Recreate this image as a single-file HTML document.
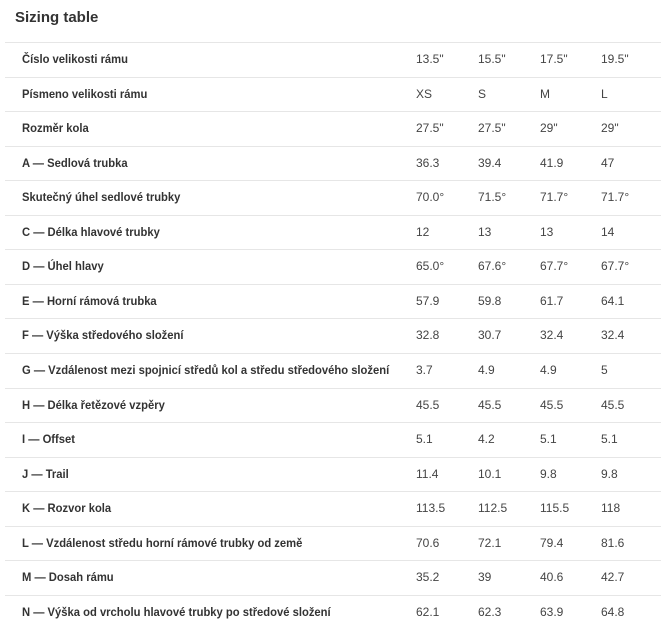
<!DOCTYPE html>
<html><head><meta charset="utf-8"><style>
body{margin:0;width:661px;height:627px;background:#fff;font-family:"Liberation Sans",sans-serif;color:#333;position:relative;overflow:hidden}
.t{position:absolute;left:15px;top:9px;font-size:15px;font-weight:bold;color:#333}
.l{position:absolute;left:5px;right:0;height:1px;background:#e6e6e6}
.r{position:absolute;left:0;width:661px;height:18px;font-size:12px;line-height:18px}
.r span{position:absolute;top:0;white-space:nowrap}
.r .a{left:22px;font-weight:bold;color:#333;transform:scaleX(0.935);transform-origin:0 0}
.r .v{color:#444}
</style></head><body>
<div class="t">Sizing table</div>
<div id="c"></div>
<script>
var rows=[["Číslo velikosti rámu","13.5\"","15.5\"","17.5\"","19.5\""],
["Písmeno velikosti rámu","XS","S","M","L"],
["Rozměr kola","27.5\"","27.5\"","29\"","29\""],
["A — Sedlová trubka","36.3","39.4","41.9","47"],
["Skutečný úhel sedlové trubky","70.0°","71.5°","71.7°","71.7°"],
["C — Délka hlavové trubky","12","13","13","14"],
["D — Úhel hlavy","65.0°","67.6°","67.7°","67.7°"],
["E — Horní rámová trubka","57.9","59.8","61.7","64.1"],
["F — Výška středového složení","32.8","30.7","32.4","32.4"],
["G — Vzdálenost mezi spojnicí středů kol a středu středového složení","3.7","4.9","4.9","5"],
["H — Délka řetězové vzpěry","45.5","45.5","45.5","45.5"],
["I — Offset","5.1","4.2","5.1","5.1"],
["J — Trail","11.4","10.1","9.8","9.8"],
["K — Rozvor kola","113.5","112.5","115.5","118"],
["L — Vzdálenost středu horní rámové trubky od země","70.6","72.1","79.4","81.6"],
["M — Dosah rámu","35.2","39","40.6","42.7"],
["N — Výška od vrcholu hlavové trubky po středové složení","62.1","62.3","63.9","64.8"]];
var xs=[416,478,540,601],h="";
for(var i=0;i<rows.length;i++){
var ly=42+34.56*i;
h+='<div class="l" style="top:'+Math.round(ly)+'px"></div>';
var ty=Math.round(59+34.56*i-9);
h+='<div class="r" style="top:'+ty+'px"><span class="a">'+rows[i][0]+'</span>';
for(var j=0;j<4;j++)h+='<span class="v" style="left:'+xs[j]+'px">'+rows[i][j+1]+'</span>';
h+='</div>';}
document.getElementById('c').innerHTML=h;
</script>
</body></html>
